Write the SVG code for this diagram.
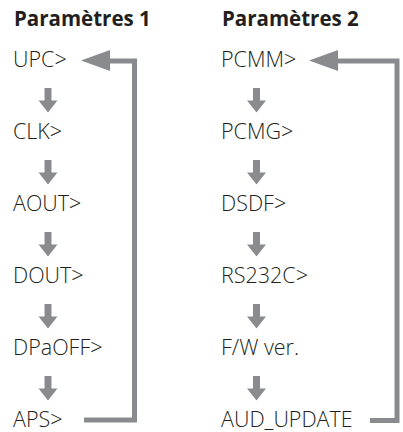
<svg xmlns="http://www.w3.org/2000/svg" width="403" height="432" viewBox="0 0 403 432">
<defs>
<style>
.title{font-family:"Open Sans","Liberation Sans",sans-serif;font-weight:bold;font-size:20.5px;fill:#231f20}
.item{font-family:"Open Sans","Liberation Sans",sans-serif;font-weight:300;font-size:21.5px;fill:#231f20}
.loop{fill:none;stroke:#8a8b8e;stroke-width:5;stroke-linejoin:miter}
.ah{fill:#8a8b8e}
</style>
<path id="down" d="M-3.5,0 H3.5 V12.5 H9.5 L0,24.5 L-9.5,12.5 H-3.5 Z" fill="#8a8b8e"/>
</defs>
<rect width="403" height="432" fill="#ffffff"/>
<g id="title1"><text class="title" x="14" y="25.5">Paramètres 1</text></g>
<g id="title2"><text class="title" x="222" y="25.5">Paramètres 2</text></g>
<g id="n-UPC"><text class="item" x="13" y="66.5">UPC&gt;</text></g>
<g id="n-CLK"><text class="item" x="13" y="139">CLK&gt;</text></g>
<g id="n-AOUT"><text class="item" x="13" y="211">AOUT&gt;</text></g>
<g id="n-DOUT"><text class="item" x="13" y="283">DOUT&gt;</text></g>
<g id="n-DPaOFF"><text class="item" x="13" y="355">DPaOFF&gt;</text></g>
<g id="n-APS"><text class="item" x="13" y="427">APS&gt;</text></g>
<g id="n-PCMM"><text class="item" x="221" y="66.5">PCMM&gt;</text></g>
<g id="n-PCMG"><text class="item" x="221" y="139">PCMG&gt;</text></g>
<g id="n-DSDF"><text class="item" x="221" y="211">DSDF&gt;</text></g>
<g id="n-RS232C"><text class="item" x="221" y="283">RS232C&gt;</text></g>
<g id="n-FW"><text class="item" x="221" y="355">F/W ver.</text></g>
<g id="n-AUD"><text class="item" x="221" y="427">AUD_UPDATE</text></g>
<g id="connectors">
<use href="#down" x="48" y="88"/>
<use href="#down" x="48" y="160"/>
<use href="#down" x="48" y="232"/>
<use href="#down" x="48" y="304"/>
<use href="#down" x="48" y="376"/>
<use href="#down" x="256.5" y="88"/>
<use href="#down" x="256.5" y="160"/>
<use href="#down" x="256.5" y="232"/>
<use href="#down" x="256.5" y="304"/>
<use href="#down" x="256.5" y="376"/>
<polyline class="loop" points="84,420 134.5,420 134.5,61 108,61"/>
<polygon class="ah" points="81,60.5 110,50 110,71"/>
<polyline class="loop" points="370,420.5 397,420.5 397,61 336,61"/>
<polygon class="ah" points="309,60.5 338,50 338,71"/>
</g>
</svg>
